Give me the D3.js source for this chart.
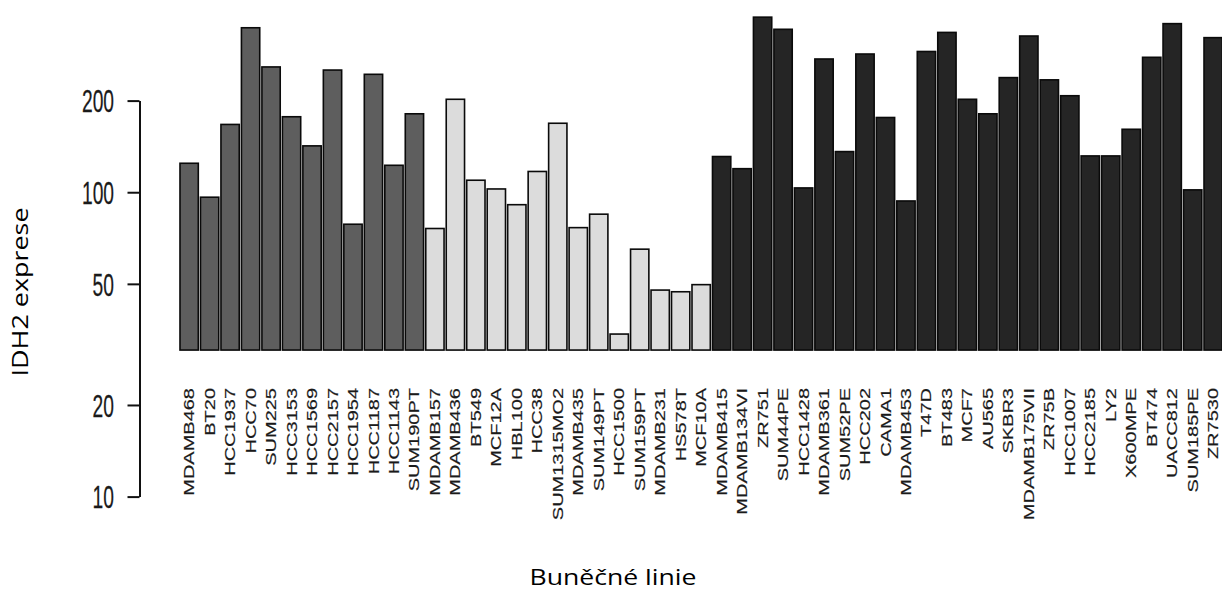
<!DOCTYPE html>
<html>
<head>
<meta charset="utf-8">
<script src="https://cdn.jsdelivr.net/npm/d3@7"></script>
<style>
  html, body { margin: 0; padding: 0; background: #fff; }
  svg { display: block; }
</style>
</head>
<body>
<svg id="chart" width="1222" height="593"></svg>
<script>
// ---- data ----
const categories = [
  "MDAMB468","BT20","HCC1937","HCC70","SUM225","HCC3153","HCC1569","HCC2157","HCC1954","HCC1187","HCC1143","SUM190PT",
  "MDAMB157","MDAMB436","BT549","MCF12A","HBL100","HCC38","SUM1315MO2","MDAMB435","SUM149PT","HCC1500","SUM159PT","MDAMB231","HS578T","MCF10A",
  "MDAMB415","MDAMB134VI","ZR751","SUM44PE","HCC1428","MDAMB361","SUM52PE","HCC202","CAMA1","MDAMB453","T47D","BT483","MCF7","AU565","SKBR3","MDAMB175VII","ZR75B","HCC1007","HCC2185","LY2","X600MPE","BT474","UACC812","SUM185PE","ZR7530"
];
const values = [
  124.5, 96.3, 167, 347, 258, 177, 142, 252, 78.5, 244, 122.6, 181,
  76, 202, 109.5, 102.5, 91, 117, 168.5, 76.5, 84.7, 34.2, 65, 47.7, 47.1, 49.7,
  131, 119.5, 376, 343, 103.3, 274, 136, 284.5, 176, 93.6, 290, 335, 202, 181, 238, 326, 234, 207.5, 131.6, 131.6, 161, 277.5, 358, 101.8, 322
];
const groups = [
  "basal","basal","basal","basal","basal","basal","basal","basal","basal","basal","basal","basal",
  "claudin","claudin","claudin","claudin","claudin","claudin","claudin","claudin","claudin","claudin","claudin","claudin","claudin","claudin",
  "luminal","luminal","luminal","luminal","luminal","luminal","luminal","luminal","luminal","luminal","luminal","luminal","luminal","luminal","luminal","luminal","luminal","luminal","luminal","luminal","luminal","luminal","luminal","luminal","luminal"
];
const groupNames = ["basal","claudin","luminal"];
const groupColors = ["#5e5e5e","#dcdcdc","#252525"];
const yTicks = [10, 20, 50, 100, 200];
const baseValue = 30.3;
const yTitle = "IDH2 exprese";
const xTitle = "Buněčné linie";

// ---- scales ----
const svg = d3.select("#chart");
const y = d3.scaleLog().domain([10, 200]).range([496.6, 100.6]);
const x = d3.scaleBand().domain(categories).range([178.9, 1223.4])
  .paddingInner(0.106).paddingOuter(0.053);
const color = d3.scaleOrdinal().domain(groupNames).range(groupColors);

// ---- bars ----
svg.append("g").selectAll("rect")
  .data(categories)
  .join("rect")
  .attr("x", (d) => x(d))
  .attr("width", x.bandwidth())
  .attr("y", (d, i) => y(values[i]))
  .attr("height", (d, i) => y(baseValue) - y(values[i]))
  .attr("fill", (d, i) => color(groups[i]))
  .attr("stroke", "#0a0a0a")
  .attr("stroke-width", 1.6);

// ---- y axis ----
const yAxis = svg.append("g")
  .attr("transform", "translate(139.5,0)")
  .call(d3.axisLeft(y).tickValues(yTicks).tickFormat(d3.format("d")).tickSize(12).tickSizeOuter(0));
yAxis.select(".domain").attr("stroke", "#111").attr("stroke-width", 2);
yAxis.selectAll(".tick line").attr("stroke", "#111").attr("stroke-width", 2);
yAxis.selectAll(".tick text")
  .attr("font-family", "'Liberation Sans', Arial, sans-serif")
  .attr("font-size", 31)
  .attr("fill", "#1a1a1a")
  .attr("stroke", "#1a1a1a")
  .attr("stroke-width", 0.25)
  .attr("transform", "scale(0.62,1)")
  .attr("x", -25.5 / 0.62)
  .attr("dy", "0.36em");

// ---- x labels (rotated) ----
svg.append("g").selectAll("text")
  .data(categories)
  .join("text")
  .attr("transform", (d) => `translate(${x(d) + x.bandwidth() / 2},388) rotate(-90) scale(1,0.7)`)
  .attr("text-anchor", "end")
  .attr("dy", "0.36em")
  .attr("font-family", "'Liberation Sans', Arial, sans-serif")
  .attr("font-size", 20)
  .attr("fill", "#1a1a1a")
  .attr("stroke", "#1a1a1a")
  .attr("stroke-width", 0.25)
  .text((d) => d);

// ---- titles ----
svg.append("text")
  .attr("transform", "translate(28.3,292) rotate(-90)")
  .attr("text-anchor", "middle")
  .attr("font-family", "'Open Sans', sans-serif")
  .attr("font-weight", 400)
  .attr("font-size", 22)
  .attr("textLength", 169)
  .attr("lengthAdjust", "spacingAndGlyphs")
  .attr("fill", "#000")
  .text(yTitle);

svg.append("text")
  .attr("x", 613)
  .attr("y", 585)
  .attr("text-anchor", "middle")
  .attr("font-family", "'Open Sans', sans-serif")
  .attr("font-weight", 400)
  .attr("font-size", 22)
  .attr("textLength", 167)
  .attr("lengthAdjust", "spacingAndGlyphs")
  .attr("fill", "#000")
  .text(xTitle);
</script>
</body>
</html>
